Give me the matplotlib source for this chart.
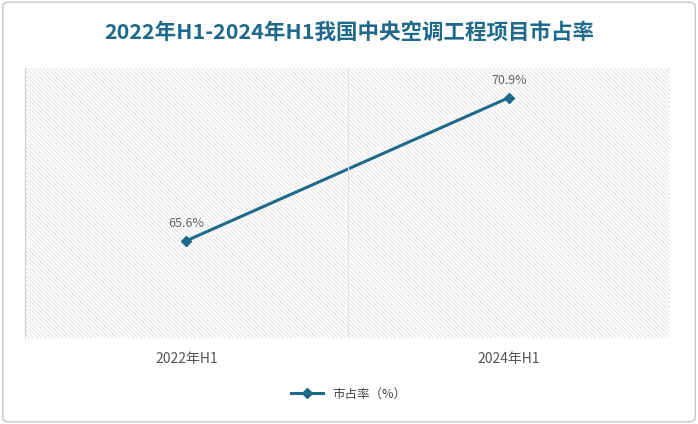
import matplotlib
matplotlib.use("Agg")
import matplotlib.pyplot as plt
from matplotlib.patches import FancyBboxPatch

plt.rcParams['font.family'] = ['Noto Sans CJK SC', 'Noto Sans CJK JP', 'DejaVu Sans']
plt.rcParams['hatch.color'] = '#dadada'
plt.rcParams['hatch.linewidth'] = 0.5

categories = ['2022年H1', '2024年H1']
share = [65.6, 70.9]
labels = ['65.6%', '70.9%']
title = '2022年H1-2024年H1我国中央空调工程项目市占率'
series_name = '市占率（%）'

color = '#1f6a8a'

fig = plt.figure(figsize=(6.98, 4.24), dpi=100)
fig.patches.append(FancyBboxPatch((0.004, 0.005), 0.992, 0.99, boxstyle='round,pad=0,rounding_size=0.01',
                                  transform=fig.transFigure, fc='white', ec='#c8c8c8', lw=1, zorder=-5))
ax = fig.add_axes([25/698, 1-338/424, 645/698, 270/424])
ax.set_facecolor('none')
ax.patch.set_hatch('\\\\\\\\\\\\\\\\')
ax.patch.set_edgecolor('#dadada')
ax.patch.set_linewidth(0)

x = range(len(categories))
ax.plot(x, share, color=color, lw=2.2, marker='D', ms=5, label=series_name)
for xi, v, t in zip(x, share, labels):
    ax.annotate(t, (xi, v), textcoords='offset points', xytext=(0, 10), ha='center',
                fontsize=9, color='#666666')
ax.set_xlim(-0.5, 1.5)
ax.set_ylim(62, 72)
ax.axvline(0.5, color='#e0e0e0', lw=0.8)
ax.set_xticks(list(x))
ax.set_xticklabels(categories, fontsize=10, color='#555555')
ax.tick_params(axis='x', length=0, pad=10)
ax.set_yticks([])
for s in ['top', 'right', 'bottom']:
    ax.spines[s].set_visible(False)
ax.spines['left'].set_color('#d0d0d0')

fig.text(0.5, 1-32/424, title, ha='center', va='center', fontsize=15.5, fontweight='bold', color=color)
fig.legend(loc='center', bbox_to_anchor=(0.5, 1-394/424), frameon=False, fontsize=9,
           handlelength=2.5, labelcolor='#444444')
fig.savefig('out.png', dpi=100)
